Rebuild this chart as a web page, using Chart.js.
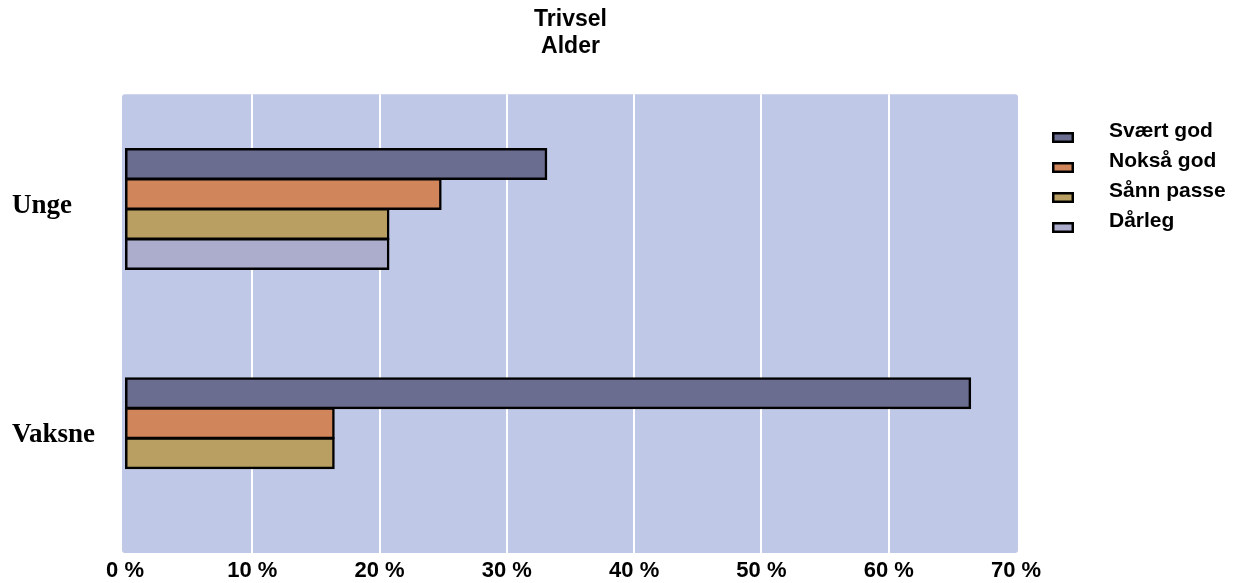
<!DOCTYPE html>
<html>
<head>
<meta charset="utf-8">
<script src="https://cdn.jsdelivr.net/npm/chart.js@4/dist/chart.umd.min.js"></script>
<style>
  html, body { margin: 0; padding: 0; background: #ffffff; }
  #wrap { width: 1233px; height: 583px; }
</style>
</head>
<body>
<div id="wrap"><canvas id="c" width="1233" height="583"></canvas></div>
<script>
// Survey data: well-being (Trivsel) by age group (Alder), share in percent
const titleLines = ['Trivsel', 'Alder'];
const categories = ['Unge', 'Vaksne'];
const seriesNames = ['Svært god', 'Nokså god', 'Sånn passe', 'Dårleg'];
const svaertGod = [33.1, 66.4];
const noksaaGod = [24.8, 16.4];
const saannPasse = [20.7, 16.4];
const daarleg = [20.7, null];
const xTickValues = [0, 10, 20, 30, 40, 50, 60, 70];

const seriesValues = [svaertGod, noksaaGod, saannPasse, daarleg];
const seriesColors = ['#6a6d8f', '#d0855a', '#b9a062', '#acadcc'];

// Rounded light-blue panel behind the plot area
const plotPanel = {
  id: 'plotPanel',
  beforeDraw(chart) {
    const a = chart.chartArea, ctx = chart.ctx;
    ctx.save();
    ctx.fillStyle = '#bfc8e6';
    ctx.beginPath();
    ctx.roundRect(a.left - 3, a.top, (a.right + 2) - (a.left - 3), a.bottom - a.top, 3);
    ctx.fill();
    ctx.restore();
  }
};

// Legend drawn to the right of the plot
const sideLegend = {
  id: 'sideLegend',
  afterDraw(chart) {
    const ctx = chart.ctx;
    ctx.save();
    chart.data.datasets.forEach((ds, i) => {
      const boxY = 132 + i * 30;
      ctx.fillStyle = ds.backgroundColor;
      ctx.fillRect(1052, boxY, 22, 11);
      ctx.strokeStyle = '#000';
      ctx.lineWidth = 2.5;
      ctx.strokeRect(1053.25, boxY + 1.25, 19.5, 8.5);
      ctx.fillStyle = '#000';
      ctx.font = 'bold 21px "Liberation Sans", Arial, sans-serif';
      ctx.textAlign = 'left';
      ctx.textBaseline = 'middle';
      ctx.fillText(ds.label, 1109, 131 + i * 30);
    });
    ctx.restore();
  }
};

new Chart(document.getElementById('c'), {
  type: 'bar',
  data: {
    labels: categories,
    datasets: seriesNames.map((name, i) => ({
      label: name,
      data: seriesValues[i],
      backgroundColor: seriesColors[i],
      borderColor: '#000000',
      borderWidth: 2.5,
      borderSkipped: false,
      inflateAmount: 1,
      barPercentage: 1.0,
      categoryPercentage: 0.523
    }))
  },
  options: {
    indexAxis: 'y',
    responsive: false,
    animation: false,
    devicePixelRatio: 1,
    layout: { padding: { left: 12, right: 217, top: 0, bottom: 0 } },
    scales: {
      x: {
        type: 'linear',
        min: 0,
        max: 70,
        afterBuildTicks(scale) { scale.ticks = xTickValues.map(v => ({ value: v })); },
        afterFit(scale) { scale.height = 30; },
        ticks: {
          color: '#000',
          padding: 5,
          font: { family: '"Liberation Sans", Arial, sans-serif', size: 22, weight: 'bold' },
          callback: v => v + ' %'
        },
        grid: {
          drawTicks: false,
          lineWidth: 2,
          color: ctx => (ctx.tick && ctx.tick.value > 0 && ctx.tick.value < 70) ? '#ffffff' : 'rgba(0,0,0,0)'
        },
        border: { display: false }
      },
      y: {
        type: 'category',
        afterFit(scale) { scale.width = 113; },
        ticks: {
          color: '#000',
          crossAlign: 'far',
          labelOffset: -3,
          font: { family: '"Liberation Serif", "Times New Roman", serif', size: 27, weight: 'bold' }
        },
        grid: { display: false, drawTicks: false },
        border: { display: false }
      }
    },
    plugins: {
      legend: { display: false },
      tooltip: { enabled: false },
      title: {
        display: true,
        text: titleLines,
        fullSize: false,
        color: '#000',
        font: { family: '"Liberation Sans", Arial, sans-serif', size: 23, weight: 'bold', lineHeight: 1.18 },
        padding: { top: 6, bottom: 34 }
      }
    }
  },
  plugins: [plotPanel, sideLegend]
});
</script>
</body>
</html>
